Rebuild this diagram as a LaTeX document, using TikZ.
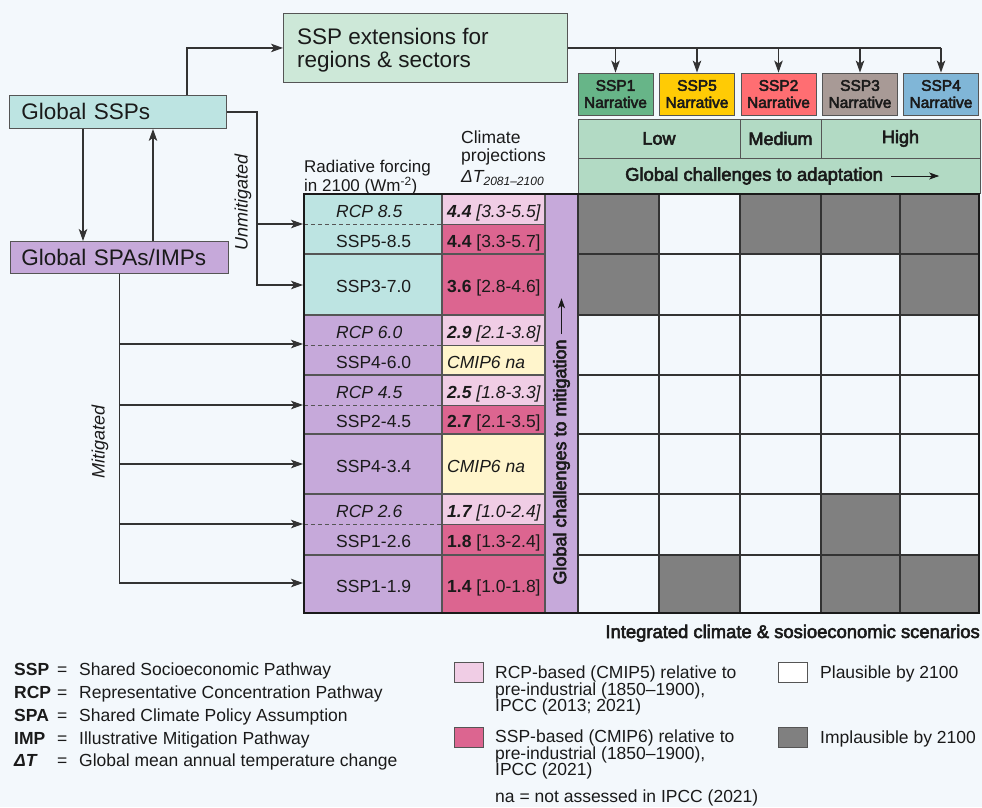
\documentclass[tikz,border=0pt]{standalone}
\usepackage{fontspec}
\setmainfont{Liberation Sans}
\newfontfamily\medfont{Liberation Sans}[RawFeature={embolden=3}]
\usetikzlibrary{arrows.meta}
\definecolor{bg}{HTML}{F3F8FC}
\definecolor{extc}{HTML}{CDE8D8}
\definecolor{cyanc}{HTML}{BDE4E2}
\definecolor{purp}{HTML}{C6A9DA}
\definecolor{mint}{HTML}{B2DAC4}
\definecolor{pinkl}{HTML}{F0CDE5}
\definecolor{pinkd}{HTML}{DC6590}
\definecolor{yell}{HTML}{FFF5CC}
\definecolor{grayc}{HTML}{808080}
\definecolor{boxline}{HTML}{555555}
\definecolor{linec}{HTML}{333333}
\definecolor{txt}{HTML}{1A1A1A}
\definecolor{nA}{HTML}{67B588}
\definecolor{nB}{HTML}{FFCB05}
\definecolor{nC}{HTML}{FF6E72}
\definecolor{nD}{HTML}{A89A96}
\definecolor{nE}{HTML}{80B6D7}
\newcommand\myfs[2]{\fontsize{#1pt}{#2pt}\selectfont}
\begin{document}
\begin{tikzpicture}[x=1pt,y=-1pt,
  every node/.style={text=txt},
  box/.style={draw=boxline, line width=0.9pt, inner sep=0pt},
  big/.style={font=\myfs{22.5}{22.5}},
  arr/.style={draw=linec, line width=1.1pt, -{Stealth[length=12pt,width=8.5pt,inset=3pt]}},
  arrsm/.style={draw=txt, line width=1pt, -{Stealth[length=10pt,width=7pt,inset=2.5pt]}},
  ln/.style={draw=linec, line width=1.1pt},
  narr/.style={box, minimum width=75pt, minimum height=42pt, align=center, font=\medfont\myfs{15.5}{17}},
  hdr/.style={box, fill=mint, minimum height=39pt, font=\medfont\myfs{18}{20}},
  celltxt/.style={anchor=west, inner sep=0pt, text height=12.6pt, text depth=0pt, font=\myfs{17.5}{20}},
  rowsep/.style={draw=boxline, line width=1.1pt},
  gridln/.style={draw=linec, line width=1.1pt},
  dashsep/.style={draw=boxline, line width=1pt, dash pattern=on 4pt off 3pt},
  lgbox/.style={draw=boxline, line width=0.8pt, minimum width=29pt, minimum height=20pt, inner sep=0pt},
  lgtxt/.style={anchor=north west, align=left, inner sep=0pt, font=\myfs{17.5}{16.5}},
  keytxt/.style={anchor=base west, inner sep=0pt, font=\myfs{17.5}{20}}
]
\useasboundingbox (0,0) rectangle (982,807);
\fill[bg] (0,0) rectangle (982,807);

% ---------- top boxes ----------
\node[box, fill=extc, anchor=north west, minimum width=284pt, minimum height=69pt] (ext) at (283,13) {};
\node[anchor=west, align=left, inner sep=0pt, big] (extt) at (297,50) {SSP extensions for\\regions \& sectors};
\node[box, big, fill=cyanc, anchor=north west, minimum height=33pt, text width=193pt, inner xsep=12pt, align=left] (gssp) at (9,95) {Global SSPs};
\node[box, big, fill=purp, anchor=north west, minimum height=32pt, text width=196pt, inner xsep=11pt, align=left] (gspa) at (10,241) {Global SPAs/IMPs};

% ---------- narratives ----------
\node[narr, fill=nA] (n1) at (615.5,94) {SSP1\\Narrative};
\node[narr, fill=nB] (n2) at (697,94) {SSP5\\Narrative};
\node[narr, fill=nC] (n3) at (778.5,94) {SSP2\\Narrative};
\node[narr, fill=nD] (n4) at (860,94) {SSP3\\Narrative};
\node[narr, fill=nE] (n5) at (941,94) {SSP4\\Narrative};

% ---------- adaptation header ----------
\node[hdr, minimum width=162pt] (low) at (659,138.5) {Low};
\node[hdr, minimum width=81pt] (med) at (780.5,138.5) {Medium};
\node[hdr, minimum width=159pt] (high) at (900.5,138.5) {High};
\node[box, fill=mint, minimum width=402pt, minimum height=35pt] (adrow) at (779,175.5) {};
\node[anchor=west, inner sep=0pt, font=\medfont\myfs{18.4}{20}] (gca) at (625,176) {Global challenges to adaptation};
\draw[arrsm] ([xshift=8pt]gca.east) -- ++(48,0);

% ---------- column headings ----------
\node[anchor=north west, align=left, inner sep=0pt, font=\myfs{17}{16}] (radh) at (304,160) {Radiative forcing\\in 2100 (Wm\textsuperscript{-2})};
\node[anchor=north west, align=left, inner sep=0pt, font=\myfs{17.5}{18}] (climh) at (461,130.5) {Climate\\projections\\[3pt]{\itshape ΔT}{\itshape\myfs{12}{12}\raisebox{-3pt}{2081–2100}}};

% ---------- table fills ----------
\fill[cyanc] (304,194) rectangle (442,315);
\fill[purp] (304,315) rectangle (442,613);
\fill[pinkl] (442,194) rectangle (545,224);
\fill[pinkd] (442,224) rectangle (545,315);
\fill[pinkl] (442,315) rectangle (545,345);
\fill[yell] (442,345) rectangle (545,375);
\fill[pinkl] (442,375) rectangle (545,405);
\fill[pinkd] (442,405) rectangle (545,434);
\fill[yell] (442,434) rectangle (545,494);
\fill[pinkl] (442,494) rectangle (545,524);
\fill[pinkd] (442,524) rectangle (545,613);
\fill[purp] (545,194) rectangle (578,613);

% grid fills (implausible)
\foreach \xa/\xb/\ya/\yb in {578/659/194/254, 740/821/194/254, 821/900/194/254, 900/979/194/254,
  578/659/254/315, 900/979/254/315, 821/900/494/555, 659/740/555/613, 821/900/555/613, 900/979/555/613}
  \fill[grayc] (\xa,\ya) rectangle (\xb,\yb);

% table lines
\foreach \y in {254,315,375,434,494,555} \draw[rowsep] (304,\y) -- (545,\y);
\foreach \y in {224,345,405,524} {
  \draw[dashsep] (304,\y) -- (442,\y);
  \draw[draw=boxline, line width=0.6pt] (442,\y) -- (545,\y);
}
\draw[rowsep] (442,194) -- (442,613);
\draw[rowsep] (545,194) -- (545,613);
\foreach \y in {254,315,375,434,494,555} \draw[gridln] (578,\y) -- (979,\y);
\foreach \x in {659,740,821,900} \draw[gridln] (\x,194) -- (\x,613);
\draw[gridln, line width=1.6pt] (578,194) -- (578,613);
\draw[draw=txt, line width=2.4pt] (304,194) rectangle (979,613);

% ---------- table texts ----------
\node[celltxt] (s1) at (336,211) {\itshape RCP 8.5};
\node[celltxt] (s2) at (336,241) {SSP5-8.5};
\node[celltxt] (s3) at (336,286) {SSP3-7.0};
\node[celltxt] (s4) at (336,332) {\itshape RCP 6.0};
\node[celltxt] (s5) at (336,362) {SSP4-6.0};
\node[celltxt] (s6) at (336,392) {\itshape RCP 4.5};
\node[celltxt] (s7) at (336,421) {SSP2-4.5};
\node[celltxt] (s8) at (336,466) {SSP4-3.4};
\node[celltxt] (s9) at (336,511) {\itshape RCP 2.6};
\node[celltxt] (s10) at (336,541) {SSP1-2.6};
\node[celltxt] (s11) at (336,586) {SSP1-1.9};

\node[celltxt] (t1) at (447,211) {\itshape\bfseries 4.4 \mdseries[3.3-5.5]};
\node[celltxt] (t2) at (447,241) {\bfseries 4.4 \mdseries[3.3-5.7]};
\node[celltxt] (t3) at (447,286) {\bfseries 3.6 \mdseries[2.8-4.6]};
\node[celltxt] (t4) at (447,332) {\itshape\bfseries 2.9 \mdseries[2.1-3.8]};
\node[celltxt] (t5) at (447,362) {\itshape CMIP6 na};
\node[celltxt] (t6) at (447,392) {\itshape\bfseries 2.5 \mdseries[1.8-3.3]};
\node[celltxt] (t7) at (447,421) {\bfseries 2.7 \mdseries[2.1-3.5]};
\node[celltxt] (t8) at (447,466) {\itshape CMIP6 na};
\node[celltxt] (t9) at (447,511) {\itshape\bfseries 1.7 \mdseries[1.0-2.4]};
\node[celltxt] (t10) at (447,541) {\bfseries 1.8 \mdseries[1.3-2.4]};
\node[celltxt] (t11) at (447,586) {\bfseries 1.4 \mdseries[1.0-1.8]};

\node[rotate=90, inner sep=0pt, font=\medfont\myfs{18}{20}] (gcm) at (561.5,462) {Global challenges to mitigation};
\draw[arrsm] ([yshift=5pt]gcm.east) -- ++(0,-36);

% ---------- connectors ----------
\draw[arr] ([xshift=178pt]gssp.north west) |- (ext.west);
\draw[ln] (ext.east) -- (n5.north |- ext.east);
\foreach \n in {n1,n2,n3,n4,n5} \draw[arr] (\n.north |- ext.east) -- (\n.north);
\draw[arr] ([xshift=74pt]gssp.south west) -- ([xshift=73pt]gspa.north west);
\draw[arr] ([xshift=143pt]gspa.north west) -- ([xshift=144pt]gssp.south west);

\coordinate (tu1) at (303,224);
\coordinate (tu2) at (303,285);
\coordinate (ucor) at (257,285);
\draw[arr] (gssp.east) -| (ucor) -- (tu2);
\draw[arr] (ucor |- tu1) -- (tu1);
\node[rotate=90, inner sep=0pt, font=\itshape\myfs{18}{20}] (unm) at (243,202) {Unmitigated};

\coordinate (tm1) at (303,344);
\coordinate (tm2) at (303,405);
\coordinate (tm3) at (303,464);
\coordinate (tm4) at (303,524);
\coordinate (tm5) at (303,583);
\draw[arr] (gspa.south) |- (tm5);
\foreach \i in {1,2,3,4} \draw[arr] (gspa.south |- tm\i) -- (tm\i);
\node[rotate=90, inner sep=0pt, font=\itshape\myfs{18}{20}] (mit) at (100,442) {Mitigated};

% ---------- legend ----------
\node[anchor=base east, inner sep=0pt, font=\medfont\myfs{18.4}{20}] (integ) at (980,638) {Integrated climate \& sosioeconomic scenarios};

\node[keytxt, font=\bfseries\myfs{17.5}{20}] (k1) at (14,675) {SSP};
\node[keytxt, font=\bfseries\myfs{17.5}{20}] (k2) at (14,698) {RCP};
\node[keytxt, font=\bfseries\myfs{17.5}{20}] (k3) at (14,721) {SPA};
\node[keytxt, font=\bfseries\myfs{17.5}{20}] (k4) at (14,744) {IMP};
\node[keytxt, font=\bfseries\itshape\myfs{17.5}{20}] (k5) at (14,766) {ΔT};
\foreach \y/\nm in {675/e1,698/e2,721/e3,744/e4,766/e5} \node[keytxt] (\nm) at (57,\y) {=};
\node[keytxt] (d1) at (79,675) {Shared Socioeconomic Pathway};
\node[keytxt] (d2) at (79,698) {Representative Concentration Pathway};
\node[keytxt] (d3) at (79,721) {Shared Climate Policy Assumption};
\node[keytxt] (d4) at (79,744) {Illustrative Mitigation Pathway};
\node[keytxt] (d5) at (79,766) {Global mean annual temperature change};

\node[lgbox, fill=pinkl] (lb1) at (468.5,672) {};
\node[lgtxt] (lt1) at (495,666) {RCP-based (CMIP5) relative to\\pre-industrial (1850–1900),\\IPCC (2013; 2021)};
\node[lgbox, fill=pinkd] (lb2) at (468.5,737) {};
\node[lgtxt] (lt2) at (495,730) {SSP-based (CMIP6) relative to\\pre-industrial (1850–1900),\\IPCC (2021)};
\node[keytxt] (lna) at (495,802) {na = not assessed in IPCC (2021)};

\node[lgbox, fill=white] (lb3) at (793,672) {};
\node[keytxt] (lt3) at (820,678) {Plausible by 2100};
\node[lgbox, fill=grayc] (lb4) at (793,737) {};
\node[keytxt] (lt4) at (820,743) {Implausible by 2100};
\end{tikzpicture}
\end{document}
